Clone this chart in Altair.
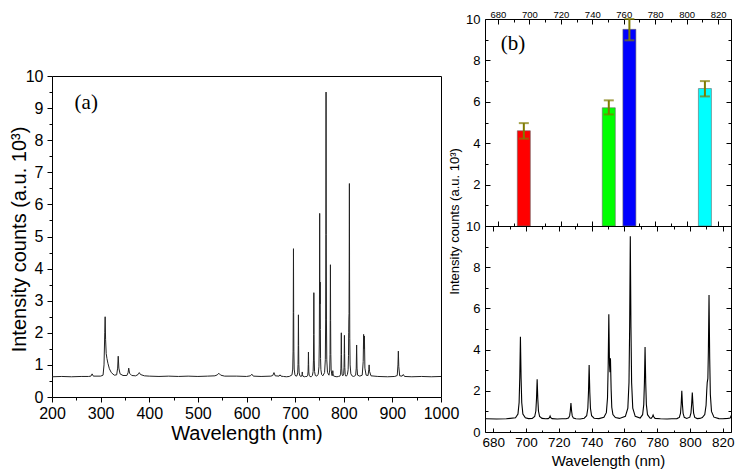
import altair as alt
import pandas as pd

# ---------------- spectrum ----------------
wavelength = [
    200, 220, 240, 260, 275, 280, 282.5, 285, 300, 305, 307, 308.5, 309.3, 310.2, 311.5, 313, 315, 318, 322, 328,
    333, 335, 336.2, 337.5, 340, 346, 354, 356.5, 357.8, 359.5, 364, 372, 377, 379.5, 382, 390, 400, 420, 440, 460,
    480, 500, 520, 535, 540, 543, 547, 555, 580, 600, 608, 611, 614, 630, 650, 654, 656.5, 659, 667, 669, 671,
    676, 682, 688,
    693.6, 695.1, 695.8, 696.2, 696.6, 697.0, 697.4, 698.1, 699.6, 701.5,
    703.8, 705.3, 706.0, 706.4, 706.8, 707.2, 707.6, 708.3, 709.8,
    712, 713.5, 714.3, 714.7, 715.1, 715.9, 719, 722,
    724.4, 725.9, 726.6, 727.0, 727.4, 727.8, 728.2, 728.9, 730.4, 733,
    735.5, 737.0, 737.7, 738.1, 738.5, 738.9, 739.3, 740.0, 741.5, 744.5,
    747.5, 749.0, 749.7, 750.1, 750.5, 750.9, 751.2, 751.5, 751.9, 752.3, 753.0, 754.5, 757,
    760.6, 762.1, 762.8, 763.2, 763.6, 764.0, 764.4, 765.1, 766.6,
    769.6, 771.1, 771.8, 772.2, 772.6, 773.0, 773.4, 774.1, 775.6,
    776.3, 777.1, 777.5, 777.9, 778.7, 782, 786, 789,
    792.0, 793.5, 794.2, 794.6, 795.0, 795.4, 795.8, 796.5, 798.0,
    799.9, 800.6, 801.0, 801.4, 801.8, 802.2, 802.9, 804.4, 806,
    807.5, 809.0, 809.8, 810.2, 810.5, 810.9, 811.2, 811.6, 812.0, 812.4, 813.1, 814.6, 817.6,
    820, 823, 824.5, 825.7, 826.5, 827.3, 828.5, 833, 838, 840, 840.9, 841.7, 842.5, 843.5, 846, 850,
    851.5, 852.2, 853, 856, 870, 890, 905, 910, 911.5, 912.3, 913.2, 915, 920, 922.5, 925, 940, 960, 980, 1000,
]
intensity = [
    0.63, 0.64, 0.63, 0.64, 0.64, 0.65, 0.72, 0.65, 0.65, 0.68, 1.0, 2.0, 2.5, 1.8, 1.35, 1.2, 1.05, 0.88, 0.76, 0.68,
    0.69, 0.9, 1.27, 0.9, 0.72, 0.67, 0.67, 0.76, 0.9, 0.74, 0.67, 0.66, 0.7, 0.76, 0.7, 0.66, 0.65, 0.64, 0.65, 0.64,
    0.65, 0.64, 0.65, 0.66, 0.69, 0.74, 0.68, 0.65, 0.65, 0.64, 0.66, 0.71, 0.65, 0.64, 0.65, 0.67, 0.76, 0.66, 0.65, 0.69, 0.65,
    0.64, 0.63, 0.64,
    0.69, 0.87, 1.43, 2.63, 4.62, 2.63, 1.43, 0.87, 0.69, 0.65,
    0.66, 0.75, 1.02, 1.60, 2.56, 1.60, 1.02, 0.75, 0.66,
    0.64, 0.65, 0.70, 0.78, 0.70, 0.65, 0.63, 0.64,
    0.64, 0.68, 0.78, 1.02, 1.40, 1.02, 0.78, 0.68, 0.64, 0.63,
    0.67, 0.79, 1.15, 1.94, 3.25, 1.94, 1.15, 0.79, 0.67, 0.65,
    0.71, 0.94, 1.65, 3.18, 5.72, 3.3, 2.9, 3.58, 2.1, 1.2, 0.85, 0.70, 0.66,
    0.76, 1.16, 2.40, 5.07, 9.50, 5.07, 2.40, 1.16, 0.76,
    0.68, 0.84, 1.33, 2.38, 4.12, 2.38, 1.33, 0.84, 0.68,
    0.66, 0.74, 0.82, 0.74, 0.66, 0.64, 0.63, 0.64,
    0.65, 0.71, 0.90, 1.32, 2.00, 1.32, 0.90, 0.71, 0.66,
    0.72, 0.93, 1.35, 1.92, 1.35, 0.92, 0.71, 0.65, 0.66,
    0.70, 0.85, 1.3, 2.0, 2.4, 2.6, 3.9, 6.65, 3.64, 1.83, 1.0, 0.72, 0.65,
    0.64, 0.66, 0.68, 0.9, 1.62, 0.9, 0.68, 0.65, 0.68, 1.1, 1.95, 1.5, 1.9, 0.9, 0.68, 0.67,
    0.85, 1.0, 0.8, 0.66, 0.64, 0.63, 0.64, 0.67, 1.0, 1.43, 0.95, 0.66, 0.65, 0.7, 0.64, 0.63, 0.64, 0.63, 0.64,
]

# ---------------- bar panel (b) ----------------
bar_lines = ["696.5 nm", "750.4 nm", "763.5 nm", "811.5 nm"]
bar_wavelength = [696.5, 750.5, 763.6, 811.6]
bar_intensity = [4.60, 5.71, 9.50, 6.64]
err_low = [4.22, 5.39, 8.97, 6.26]
err_high = [4.97, 6.07, 10.0, 7.0]
bar_colors = ["#ff0000", "#00ff00", "#0000ff", "#00ffff"]
err_color = "#7f7a00"

# ---------------- ticks and labels ----------------
full_x_ticks = [200, 250, 300, 350, 400, 450, 500, 550, 600, 650, 700, 750, 800, 850, 900, 950, 1000]
full_y_ticks = [0, 0.5, 1, 1.5, 2, 2.5, 3, 3.5, 4, 4.5, 5, 5.5, 6, 6.5, 7, 7.5, 8, 8.5, 9, 9.5, 10]
zoom_x_ticks = [680, 690, 700, 710, 720, 730, 740, 750, 760, 770, 780, 790, 800, 810, 820]
zoom_y_ticks = [0, 1, 2, 3, 4, 5, 6, 7, 8, 9, 10]
panel_a = {"wl": [270.5], "I": [9.16], "t": ["(a)"]}
panel_b = {"wl": [689.6], "I": [8.78], "t": ["(b)"]}

FONT = "Liberation Sans"
SERIF = "Liberation Serif"
LW, LH = 389, 321
RW, RH = 246, 207

spec_df = pd.DataFrame({"wl": wavelength, "I": intensity})
bar_df = pd.DataFrame({"wl": bar_wavelength, "I": bar_intensity, "lo": err_low,
                       "hi": err_high, "line": bar_lines})

# ---------- left panel (a) ----------
left_x_axis = alt.Axis(
    values=full_x_ticks, tickCount=200, format="d", title="Wavelength (nm)",
    labelExpr="datum.value % 100 === 0 ? datum.label : ''",
    tickSize=alt.condition("datum.value % 100 === 0", alt.value(5), alt.value(3)),
    labelFontSize=16, titleFontSize=20, labelPadding=3, titlePadding=2,
    grid=False, labelOverlap=False, labelFlush=False,
)
left_y_axis = alt.Axis(
    values=full_y_ticks, tickCount=200, title="Intensity counts (a.u. 10³)",
    labelExpr="datum.value % 1 === 0 ? format(datum.value, 'd') : ''",
    tickSize=alt.condition("datum.value % 1 === 0", alt.value(5), alt.value(3)),
    labelFontSize=16, titleFontSize=20, labelPadding=4,
    titleX=-33, titleY=163, titleAngle=270, titleAlign="center", titleBaseline="middle",
    grid=False, labelOverlap=False, labelFlush=False,
)
xs_full = alt.Scale(domain=[200, 1000], nice=False, zero=False)
ys_full = alt.Scale(domain=[0, 10], nice=False)

left_line = alt.Chart(spec_df).mark_line(color="#222222", strokeWidth=1, clip=True).encode(
    x=alt.X("wl:Q", scale=xs_full, axis=left_x_axis),
    y=alt.Y("I:Q", scale=ys_full, axis=left_y_axis),
)
left_text = alt.Chart(pd.DataFrame(panel_a)).mark_text(
    font=SERIF, fontSize=21, align="center", baseline="middle", color="black"
).encode(x=alt.X("wl:Q", scale=xs_full), y=alt.Y("I:Q", scale=ys_full), text="t:N")
left = alt.layer(left_line, left_text).properties(width=LW, height=LH)

spacer = alt.Chart(pd.DataFrame({"v": [0]})).mark_point(opacity=0).encode(
    x=alt.X("v:Q", axis=None), y=alt.Y("v:Q", axis=None)
).properties(width=LW, height=57, view=alt.ViewBackground(stroke=None))

# ---------- right panels ----------
xs_zoom = alt.Scale(domain=[675, 825], nice=False, zero=False)
ys_zoom = alt.Scale(domain=[0, 10], nice=False)

def zoom_x_axis(orient, size, pad, title):
    if title:
        kw = dict(title=title, titleFontSize=15, titlePadding=5)
    else:
        kw = dict(title=None)
    return alt.Axis(
        orient=orient, values=zoom_x_ticks, tickCount=200, format="d",
        labelExpr="datum.value % 20 === 0 ? datum.label : ''",
        ticks=False, tickSize=0, labelFontSize=size, labelPadding=pad,
        grid=True, gridColor="black", gridOpacity=1, gridWidth=1,
        gridDash=alt.condition("datum.value % 20 === 0", alt.value([5, RH - 10, 5]), alt.value([3, RH - 6, 3])),
        labelOverlap=False, labelFlush=False, **kw,
    )

def zoom_y_axis(label_expr, **kw):
    return alt.Axis(
        values=zoom_y_ticks, tickCount=200, format="d", labelExpr=label_expr,
        ticks=False, tickSize=0, labelFontSize=13, labelPadding=5,
        grid=True, gridColor="black", gridOpacity=1, gridWidth=1,
        gridDash=alt.condition("datum.value % 2 === 0", alt.value([5, RW - 10, 5]), alt.value([3, RW - 6, 3])),
        labelOverlap=False, labelFlush=False, **kw,
    )

top_x_axis = zoom_x_axis("top", 9.5, 0, None)
top_y_axis = zoom_y_axis("datum.value % 2 === 0 && datum.value > 0 ? datum.label : ''", title=None)

bars = alt.Chart(bar_df).mark_bar(size=13, stroke="#666666", strokeWidth=0.6).encode(
    x=alt.X("wl:Q", scale=xs_zoom, axis=top_x_axis),
    y=alt.Y("I:Q", scale=ys_zoom, axis=top_y_axis),
    color=alt.Color("line:N", scale=alt.Scale(domain=bar_lines, range=bar_colors), legend=None),
)
err = alt.Chart(bar_df).mark_rule(color=err_color, strokeWidth=2).encode(
    x=alt.X("wl:Q", scale=xs_zoom, title=None),
    y=alt.Y("lo:Q", scale=ys_zoom, title=None), y2="hi:Q",
)
cap_lo = alt.Chart(bar_df).mark_tick(orient="horizontal", size=10, thickness=2, color=err_color).encode(
    x=alt.X("wl:Q", scale=xs_zoom, title=None), y=alt.Y("lo:Q", scale=ys_zoom, title=None))
cap_hi = alt.Chart(bar_df).mark_tick(orient="horizontal", size=10, thickness=2, color=err_color).encode(
    x=alt.X("wl:Q", scale=xs_zoom, title=None), y=alt.Y("hi:Q", scale=ys_zoom, title=None))
b_text = alt.Chart(pd.DataFrame(panel_b)).mark_text(
    font=SERIF, fontSize=21, align="center", baseline="middle", color="black"
).encode(x=alt.X("wl:Q", scale=xs_zoom, title=None), y=alt.Y("I:Q", scale=ys_zoom, title=None), text="t:N")
top = alt.layer(bars, err, cap_lo, cap_hi, b_text).properties(width=RW, height=RH)

bottom_x_axis = zoom_x_axis("bottom", 13.5, 3, "Wavelength (nm)")
bottom_y_axis = zoom_y_axis(
    "datum.value % 2 === 0 ? datum.label : ''",
    title="Intensity counts (a.u. 10³)", titleFontSize=13,
    titleX=-31, titleY=-5, titleAngle=270, titleAlign="center", titleBaseline="middle",
)
bottom = alt.Chart(spec_df).mark_line(color="black", strokeWidth=1.1, clip=True).encode(
    x=alt.X("wl:Q", scale=xs_zoom, axis=bottom_x_axis),
    y=alt.Y("I:Q", scale=ys_zoom, axis=bottom_y_axis),
).properties(width=RW, height=RH - 1)

left_group = alt.vconcat(spacer, left, spacing=0, bounds="flush")
right_group = alt.vconcat(top, bottom, spacing=0, bounds="flush")

chart = alt.hconcat(left_group, right_group, spacing=-13).properties(
    padding=0
).configure(
    font=FONT, background="white", padding=0
).configure_axis(
    labelFont=FONT, titleFont=FONT, labelColor="black", titleColor="black",
    tickColor="black", domain=False, titleFontWeight="normal",
).configure_view(stroke="black", strokeWidth=1)

chart.save("out.html", embed_options={"renderer": "svg", "actions": False})
